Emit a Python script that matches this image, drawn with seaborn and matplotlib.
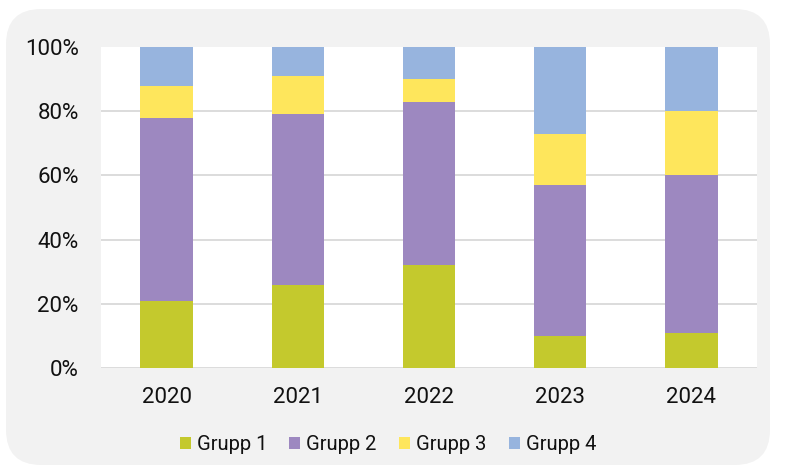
import matplotlib
matplotlib.use("Agg")
import matplotlib.pyplot as plt
import seaborn as sns
import pandas as pd
import numpy as np
from matplotlib.patches import FancyBboxPatch, Patch

years = ["2020", "2021", "2022", "2023", "2024"]
groups = ["Grupp 1", "Grupp 2", "Grupp 3", "Grupp 4"]
grupp1 = [21, 26, 32, 10, 11]
grupp2 = [57, 53, 51, 47, 49]
grupp3 = [10, 12, 7, 16, 20]
grupp4 = [12, 9, 10, 27, 20]
colors = ["#c4c92d", "#9d88c0", "#fee65c", "#97b4de"]
yticks = [0, 20, 40, 60, 80, 100]

sns.set_theme(style="white")
plt.rcParams["font.family"] = ["Roboto", "DejaVu Sans"]

fig = plt.figure(figsize=(7.85, 4.70), dpi=100)
fig.patch.set_facecolor("white")
bg = FancyBboxPatch((6 / 785, 5 / 470), 764 / 785, 456 / 470,
                    boxstyle="round,pad=0,rounding_size=0.045",
                    transform=fig.transFigure, facecolor="#f2f2f2",
                    edgecolor="none", zorder=-10,
                    mutation_aspect=785 / 470)
fig.patches.append(bg)

ax = fig.add_axes([101 / 785, 1 - 368 / 470, 656 / 785, 321 / 470])
ax.set_zorder(5)
ax.set_facecolor("white")

series = [grupp1, grupp2, grupp3, grupp4]
cum = np.cumsum(np.array(series, dtype=float), axis=0)
for i in range(len(groups) - 1, -1, -1):
    df = pd.DataFrame({"year": years, "value": cum[i]})
    sns.barplot(data=df, x="year", y="value", color=colors[i], width=0.4,
                saturation=1, ax=ax, zorder=3, linewidth=0)

ax.set_ylim(0, 100)
ax.set_xlim(-0.5, 4.5)
ax.set_yticks(yticks)
ax.set_yticklabels([f"{t}%" for t in yticks])
for t in yticks[:-1]:
    ax.axhline(t, color="#d9d9d9", lw=1.3, zorder=1)
ax.set_xlabel("")
ax.set_ylabel("")
for s in ax.spines.values():
    s.set_visible(False)
ax.tick_params(axis="both", length=0, labelsize=16, colors="#111111")
ax.tick_params(axis="x", pad=14)
ax.tick_params(axis="y", pad=16)

handles = [Patch(facecolor=c, edgecolor="none", label=g) for c, g in zip(colors, groups)]
leg = fig.legend(handles=handles, loc="center", bbox_to_anchor=(0.494, 1 - 445 / 470),
                 ncol=4, frameon=False, fontsize=14.5, handlelength=0.55, handleheight=0.55,
                 handletextpad=0.3, columnspacing=1.1, labelcolor="#111111")
leg.set_zorder(6)

fig.savefig("out.png", dpi=100)
